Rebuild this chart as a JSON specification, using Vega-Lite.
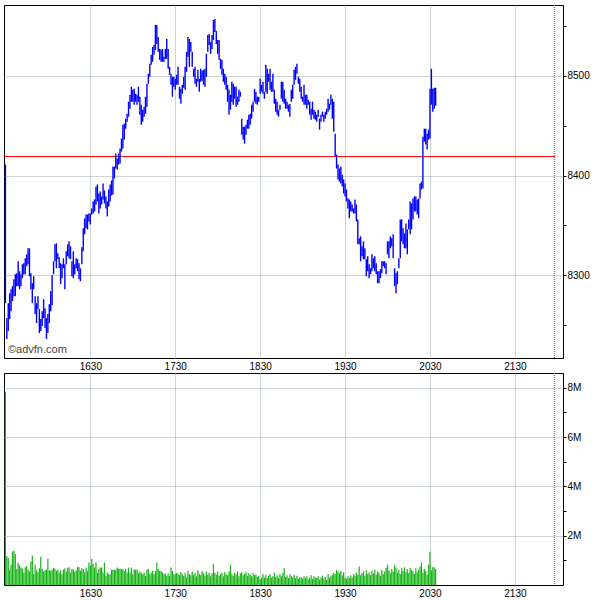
{
"$schema":"https://vega.github.io/schema/vega-lite/v6.json",
"padding":{"left":3,"top":3,"right":0,"bottom":0},
"background":"white",
"spacing":15,
"bounds":"flush",
"config":{"view":{"stroke":"#000","strokeWidth":1},"axis":{"gridColor":"#98a8a8","gridDash":[1,1],"gridWidth":1,"labelFont":"Liberation Sans","labelFontSize":10,"labelColor":"#000","tickColor":"#000","domain":false,"title":null}},
"datasets":{
"ref":[{"prev":8419,"t0":929,"t1":1318.5,"m":1318,"wt":931.8,"wp":8222,"txt":"©advfn.com"}],
"px":[
{"t":930,"h":8411,"l":8272,"v":7.84},{"t":931,"h":8257,"l":8236,"v":1.18},{"t":932,"h":8272,"l":8244,"v":1.10},{"t":933,"h":8282,"l":8256,"v":0.62},{"t":934,"h":8286,"l":8264,"v":0.82},{"t":935,"h":8289,"l":8274,"v":1.36},{"t":936,"h":8296,"l":8279,"v":1.39},{"t":937,"h":8301,"l":8279,"v":1.25},{"t":938,"h":8302,"l":8289,"v":0.65},{"t":939,"h":8314,"l":8289,"v":0.90},
{"t":940,"h":8304,"l":8286,"v":0.80},{"t":941,"h":8301,"l":8289,"v":0.71},{"t":942,"h":8311,"l":8297,"v":0.67},{"t":943,"h":8312,"l":8301,"v":0.50},{"t":944,"h":8317,"l":8301,"v":0.72},{"t":945,"h":8321,"l":8309,"v":0.78},{"t":946,"h":8327,"l":8311,"v":0.62},{"t":947,"h":8327,"l":8299,"v":0.55},{"t":948,"h":8302,"l":8286,"v":0.95},{"t":949,"h":8292,"l":8272,"v":1.20},
{"t":950,"h":8299,"l":8286,"v":0.45},{"t":951,"h":8279,"l":8261,"v":0.82},{"t":952,"h":8272,"l":8252,"v":0.60},{"t":953,"h":8279,"l":8266,"v":0.52},{"t":954,"h":8266,"l":8242,"v":0.68},{"t":955,"h":8256,"l":8244,"v":1.15},{"t":956,"h":8264,"l":8249,"v":0.66},{"t":957,"h":8276,"l":8257,"v":0.55},{"t":958,"h":8267,"l":8247,"v":0.60},{"t":959,"h":8257,"l":8236,"v":0.62},
{"t":960,"h":8261,"l":8242,"v":1.06},{"t":961,"h":8271,"l":8252,"v":0.60},{"t":962,"h":8284,"l":8264,"v":0.58},{"t":963,"h":8300,"l":8270,"v":0.62},{"t":964,"h":8314,"l":8301,"v":0.70},{"t":965,"h":8331,"l":8314,"v":0.66},{"t":966,"h":8332,"l":8307,"v":0.58},{"t":967,"h":8322,"l":8316,"v":0.62},{"t":968,"h":8318,"l":8307,"v":0.50},{"t":969,"h":8312,"l":8291,"v":0.60},
{"t":970,"h":8311,"l":8297,"v":0.44},{"t":971,"h":8317,"l":8307,"v":0.63},{"t":972,"h":8311,"l":8286,"v":0.68},{"t":973,"h":8324,"l":8311,"v":0.55},{"t":974,"h":8331,"l":8319,"v":0.70},{"t":975,"h":8334,"l":8317,"v":0.72},{"t":976,"h":8329,"l":8316,"v":0.50},{"t":977,"h":8314,"l":8299,"v":0.66},{"t":978,"h":8324,"l":8297,"v":0.63},{"t":979,"h":8311,"l":8301,"v":0.54},
{"t":980,"h":8317,"l":8307,"v":0.60},{"t":981,"h":8316,"l":8304,"v":0.74},{"t":982,"h":8312,"l":8296,"v":0.72},{"t":983,"h":8307,"l":8294,"v":0.58},{"t":984,"h":8328,"l":8311,"v":0.68},{"t":985,"h":8347,"l":8324,"v":0.64},{"t":986,"h":8357,"l":8341,"v":0.52},{"t":987,"h":8361,"l":8347,"v":0.71},{"t":988,"h":8361,"l":8346,"v":0.57},{"t":989,"h":8362,"l":8354,"v":0.91},
{"t":990,"h":8362,"l":8351,"v":0.78},{"t":991,"h":8367,"l":8361,"v":1.05},{"t":992,"h":8374,"l":8362,"v":0.85},{"t":993,"h":8376,"l":8364,"v":0.71},{"t":994,"h":8389,"l":8371,"v":0.91},{"t":995,"h":8391,"l":8374,"v":0.50},{"t":996,"h":8382,"l":8362,"v":0.64},{"t":997,"h":8384,"l":8367,"v":0.71},{"t":998,"h":8379,"l":8371,"v":0.71},{"t":999,"h":8392,"l":8376,"v":0.51},
{"t":1000,"h":8385,"l":8372,"v":0.91},{"t":1001,"h":8379,"l":8367,"v":0.37},{"t":1002,"h":8374,"l":8359,"v":0.51},{"t":1003,"h":8386,"l":8369,"v":0.44},{"t":1004,"h":8391,"l":8374,"v":0.44},{"t":1005,"h":8395,"l":8380,"v":0.62},{"t":1006,"h":8409,"l":8381,"v":0.62},{"t":1007,"h":8409,"l":8397,"v":0.62},{"t":1008,"h":8422,"l":8407,"v":0.62},{"t":1009,"h":8417,"l":8406,"v":0.71},
{"t":1010,"h":8422,"l":8411,"v":0.66},{"t":1011,"h":8427,"l":8412,"v":0.66},{"t":1012,"h":8437,"l":8424,"v":0.64},{"t":1013,"h":8451,"l":8427,"v":0.64},{"t":1014,"h":8452,"l":8436,"v":0.57},{"t":1015,"h":8457,"l":8447,"v":0.66},{"t":1016,"h":8462,"l":8454,"v":0.51},{"t":1017,"h":8474,"l":8459,"v":0.71},{"t":1018,"h":8481,"l":8467,"v":0.51},{"t":1019,"h":8489,"l":8474,"v":0.71},
{"t":1020,"h":8486,"l":8474,"v":0.44},{"t":1021,"h":8487,"l":8471,"v":0.64},{"t":1022,"h":8482,"l":8474,"v":0.62},{"t":1023,"h":8481,"l":8471,"v":0.62},{"t":1024,"h":8489,"l":8474,"v":0.49},{"t":1025,"h":8479,"l":8461,"v":0.55},{"t":1026,"h":8471,"l":8451,"v":0.51},{"t":1027,"h":8466,"l":8454,"v":0.44},{"t":1028,"h":8469,"l":8459,"v":0.51},{"t":1029,"h":8479,"l":8462,"v":0.37},
{"t":1030,"h":8492,"l":8469,"v":0.64},{"t":1031,"h":8502,"l":8492,"v":0.64},{"t":1032,"h":8512,"l":8499,"v":0.44},{"t":1033,"h":8521,"l":8511,"v":0.51},{"t":1034,"h":8529,"l":8514,"v":0.57},{"t":1035,"h":8531,"l":8521,"v":0.44},{"t":1036,"h":8551,"l":8526,"v":0.57},{"t":1037,"h":8551,"l":8532,"v":0.91},{"t":1038,"h":8539,"l":8524,"v":0.66},{"t":1039,"h":8527,"l":8516,"v":0.57},
{"t":1040,"h":8526,"l":8514,"v":0.57},{"t":1041,"h":8527,"l":8514,"v":0.51},{"t":1042,"h":8519,"l":8514,"v":0.44},{"t":1043,"h":8527,"l":8517,"v":0.48},{"t":1044,"h":8537,"l":8517,"v":0.37},{"t":1045,"h":8527,"l":8507,"v":0.48},{"t":1046,"h":8509,"l":8501,"v":0.37},{"t":1047,"h":8502,"l":8491,"v":0.71},{"t":1048,"h":8499,"l":8479,"v":0.57},{"t":1049,"h":8499,"l":8489,"v":0.44},
{"t":1050,"h":8497,"l":8486,"v":0.44},{"t":1051,"h":8501,"l":8491,"v":0.50},{"t":1052,"h":8509,"l":8491,"v":0.46},{"t":1053,"h":8489,"l":8477,"v":0.40},{"t":1054,"h":8487,"l":8472,"v":0.52},{"t":1055,"h":8491,"l":8482,"v":0.44},{"t":1056,"h":8499,"l":8488,"v":0.38},{"t":1057,"h":8509,"l":8486,"v":0.50},{"t":1058,"h":8524,"l":8504,"v":0.30},{"t":1059,"h":8539,"l":8519,"v":0.58},
{"t":1060,"h":8537,"l":8509,"v":0.45},{"t":1061,"h":8534,"l":8524,"v":0.40},{"t":1062,"h":8524,"l":8509,"v":0.55},{"t":1063,"h":8507,"l":8499,"v":0.42},{"t":1064,"h":8509,"l":8492,"v":0.50},{"t":1065,"h":8497,"l":8489,"v":0.35},{"t":1066,"h":8506,"l":8494,"v":0.60},{"t":1067,"h":8497,"l":8484,"v":0.45},{"t":1068,"h":8507,"l":8494,"v":0.40},{"t":1069,"h":8505,"l":8495,"v":0.58},
{"t":1070,"h":8506,"l":8491,"v":0.48},{"t":1071,"h":8507,"l":8489,"v":0.38},{"t":1072,"h":8522,"l":8499,"v":0.55},{"t":1073,"h":8541,"l":8524,"v":0.42},{"t":1074,"h":8542,"l":8531,"v":0.50},{"t":1075,"h":8534,"l":8522,"v":0.36},{"t":1076,"h":8541,"l":8527,"v":0.48},{"t":1077,"h":8556,"l":8536,"v":0.85},{"t":1078,"h":8557,"l":8544,"v":0.50},{"t":1079,"h":8545,"l":8532,"v":0.42},
{"t":1080,"h":8536,"l":8522,"v":0.55},{"t":1081,"h":8536,"l":8516,"v":0.38},{"t":1082,"h":8517,"l":8507,"v":0.45},{"t":1083,"h":8516,"l":8501,"v":0.50},{"t":1084,"h":8507,"l":8494,"v":0.35},{"t":1085,"h":8502,"l":8491,"v":0.52},{"t":1086,"h":8499,"l":8486,"v":0.44},{"t":1087,"h":8491,"l":8474,"v":0.40},{"t":1088,"h":8486,"l":8461,"v":0.55},{"t":1089,"h":8481,"l":8466,"v":0.82},
{"t":1090,"h":8494,"l":8474,"v":0.45},{"t":1091,"h":8492,"l":8471,"v":0.38},{"t":1092,"h":8489,"l":8477,"v":0.50},{"t":1093,"h":8489,"l":8469,"v":0.42},{"t":1094,"h":8479,"l":8471,"v":0.55},{"t":1095,"h":8486,"l":8474,"v":0.36},{"t":1096,"h":8484,"l":8479,"v":0.48},{"t":1097,"h":8457,"l":8441,"v":0.52},{"t":1098,"h":8449,"l":8436,"v":0.40},{"t":1099,"h":8449,"l":8432,"v":0.45},
{"t":1100,"h":8451,"l":8441,"v":0.55},{"t":1101,"h":8456,"l":8447,"v":0.38},{"t":1102,"h":8461,"l":8447,"v":0.48},{"t":1103,"h":8462,"l":8451,"v":0.42},{"t":1104,"h":8471,"l":8457,"v":0.35},{"t":1105,"h":8474,"l":8464,"v":0.50},{"t":1106,"h":8487,"l":8474,"v":0.40},{"t":1107,"h":8484,"l":8472,"v":0.44},{"t":1108,"h":8479,"l":8471,"v":0.32},{"t":1109,"h":8479,"l":8474,"v":0.38},
{"t":1110,"h":8497,"l":8482,"v":0.22},{"t":1111,"h":8491,"l":8484,"v":0.30},{"t":1112,"h":8494,"l":8482,"v":0.45},{"t":1113,"h":8484,"l":8477,"v":0.30},{"t":1114,"h":8511,"l":8484,"v":0.42},{"t":1115,"h":8507,"l":8482,"v":0.28},{"t":1116,"h":8502,"l":8494,"v":0.38},{"t":1117,"h":8507,"l":8486,"v":0.45},{"t":1118,"h":8494,"l":8484,"v":0.30},{"t":1119,"h":8502,"l":8484,"v":0.35},
{"t":1120,"h":8486,"l":8472,"v":0.50},{"t":1121,"h":8477,"l":8464,"v":0.32},{"t":1122,"h":8474,"l":8461,"v":0.40},{"t":1123,"h":8466,"l":8459,"v":0.28},{"t":1124,"h":8471,"l":8466,"v":0.45},{"t":1125,"h":8494,"l":8477,"v":0.35},{"t":1126,"h":8494,"l":8474,"v":0.50},{"t":1127,"h":8486,"l":8472,"v":0.68},{"t":1128,"h":8477,"l":8467,"v":0.32},{"t":1129,"h":8474,"l":8467,"v":0.40},
{"t":1130,"h":8471,"l":8464,"v":0.28},{"t":1131,"h":8472,"l":8459,"v":0.45},{"t":1132,"h":8486,"l":8474,"v":0.36},{"t":1133,"h":8491,"l":8477,"v":0.30},{"t":1134,"h":8506,"l":8491,"v":0.42},{"t":1135,"h":8509,"l":8496,"v":0.28},{"t":1136,"h":8512,"l":8502,"v":0.38},{"t":1137,"h":8499,"l":8492,"v":0.25},{"t":1138,"h":8497,"l":8484,"v":0.30},{"t":1139,"h":8489,"l":8477,"v":0.32},
{"t":1140,"h":8479,"l":8474,"v":0.25},{"t":1141,"h":8491,"l":8471,"v":0.35},{"t":1142,"h":8481,"l":8471,"v":0.28},{"t":1143,"h":8481,"l":8467,"v":0.36},{"t":1144,"h":8476,"l":8471,"v":0.22},{"t":1145,"h":8474,"l":8461,"v":0.30},{"t":1146,"h":8467,"l":8456,"v":0.40},{"t":1147,"h":8474,"l":8461,"v":0.25},{"t":1148,"h":8466,"l":8457,"v":0.35},{"t":1149,"h":8464,"l":8456,"v":0.30},
{"t":1150,"h":8461,"l":8454,"v":0.28},{"t":1151,"h":8466,"l":8459,"v":0.35},{"t":1152,"h":8457,"l":8446,"v":0.22},{"t":1153,"h":8461,"l":8454,"v":0.30},{"t":1154,"h":8464,"l":8459,"v":0.38},{"t":1155,"h":8461,"l":8454,"v":0.25},{"t":1156,"h":8464,"l":8457,"v":0.32},{"t":1157,"h":8467,"l":8461,"v":0.20},{"t":1158,"h":8477,"l":8464,"v":0.45},{"t":1159,"h":8472,"l":8466,"v":0.30},
{"t":1160,"h":8481,"l":8471,"v":0.35},{"t":1161,"h":8477,"l":8457,"v":0.42},{"t":1162,"h":8474,"l":8444,"v":0.50},{"t":1163,"h":8442,"l":8419,"v":0.45},{"t":1164,"h":8421,"l":8407,"v":0.60},{"t":1165,"h":8411,"l":8396,"v":0.55},{"t":1166,"h":8407,"l":8394,"v":0.48},{"t":1167,"h":8409,"l":8392,"v":0.58},{"t":1168,"h":8401,"l":8389,"v":0.40},{"t":1169,"h":8396,"l":8382,"v":0.52},
{"t":1170,"h":8392,"l":8379,"v":0.30},{"t":1171,"h":8386,"l":8374,"v":0.25},{"t":1172,"h":8377,"l":8367,"v":0.35},{"t":1173,"h":8376,"l":8357,"v":0.28},{"t":1174,"h":8374,"l":8364,"v":0.40},{"t":1175,"h":8371,"l":8364,"v":0.30},{"t":1176,"h":8367,"l":8362,"v":0.45},{"t":1177,"h":8376,"l":8362,"v":0.38},{"t":1178,"h":8371,"l":8354,"v":0.50},{"t":1179,"h":8356,"l":8331,"v":0.42},
{"t":1180,"h":8337,"l":8331,"v":0.75},{"t":1181,"h":8339,"l":8314,"v":0.40},{"t":1182,"h":8329,"l":8319,"v":0.48},{"t":1183,"h":8334,"l":8316,"v":0.55},{"t":1184,"h":8327,"l":8316,"v":0.38},{"t":1185,"h":8316,"l":8299,"v":0.60},{"t":1186,"h":8319,"l":8304,"v":0.45},{"t":1187,"h":8311,"l":8297,"v":0.52},{"t":1188,"h":8307,"l":8301,"v":0.40},{"t":1189,"h":8321,"l":8304,"v":0.58},
{"t":1190,"h":8317,"l":8307,"v":0.48},{"t":1191,"h":8319,"l":8304,"v":0.62},{"t":1192,"h":8312,"l":8301,"v":0.42},{"t":1193,"h":8304,"l":8292,"v":0.55},{"t":1194,"h":8304,"l":8292,"v":0.50},{"t":1195,"h":8306,"l":8297,"v":0.38},{"t":1196,"h":8314,"l":8302,"v":0.62},{"t":1197,"h":8314,"l":8309,"v":0.45},{"t":1198,"h":8314,"l":8307,"v":0.55},{"t":1199,"h":8312,"l":8301,"v":0.70},
{"t":1200,"h":8334,"l":8321,"v":0.82},{"t":1201,"h":8334,"l":8317,"v":0.60},{"t":1202,"h":8339,"l":8327,"v":0.48},{"t":1203,"h":8337,"l":8329,"v":0.65},{"t":1204,"h":8341,"l":8317,"v":0.55},{"t":1205,"h":8307,"l":8289,"v":0.80},{"t":1206,"h":8302,"l":8282,"v":0.70},{"t":1207,"h":8304,"l":8291,"v":0.50},{"t":1208,"h":8317,"l":8307,"v":0.62},{"t":1209,"h":8356,"l":8317,"v":0.45},
{"t":1210,"h":8356,"l":8334,"v":0.68},{"t":1211,"h":8347,"l":8331,"v":0.58},{"t":1212,"h":8342,"l":8327,"v":0.72},{"t":1213,"h":8352,"l":8327,"v":0.52},{"t":1214,"h":8346,"l":8321,"v":0.65},{"t":1215,"h":8356,"l":8346,"v":0.48},{"t":1216,"h":8374,"l":8341,"v":0.70},{"t":1217,"h":8372,"l":8346,"v":0.60},{"t":1218,"h":8377,"l":8356,"v":0.55},{"t":1219,"h":8379,"l":8364,"v":0.45},
{"t":1220,"h":8379,"l":8364,"v":0.68},{"t":1221,"h":8376,"l":8361,"v":0.52},{"t":1222,"h":8377,"l":8357,"v":0.62},{"t":1223,"h":8392,"l":8377,"v":0.75},{"t":1224,"h":8394,"l":8386,"v":0.92},{"t":1225,"h":8439,"l":8387,"v":0.50},{"t":1226,"h":8447,"l":8434,"v":0.65},{"t":1227,"h":8447,"l":8431,"v":0.58},{"t":1228,"h":8442,"l":8426,"v":0.42},{"t":1229,"h":8446,"l":8436,"v":0.82},
{"t":1230,"h":8487,"l":8437,"v":1.35},{"t":1231,"h":8507,"l":8471,"v":0.60},{"t":1232,"h":8487,"l":8464,"v":0.72},{"t":1233,"h":8488,"l":8467,"v":0.72},{"t":1234,"h":8488,"l":8470,"v":0.65}
]},
"vconcat":[
{"width":559,"height":353,
 "layer":[
  {"data":{"name":"ref"},"mark":{"type":"rule","color":"#ff0000","strokeWidth":1},
   "encoding":{"x":{"field":"t0","type":"quantitative","scale":{"domain":[929,1324],"nice":false,"zero":false},"axis":{"values":[990,1050,1110,1170,1230,1290],"ticks":false,"labelPadding":3,"labelFlush":false,"labelExpr":"'' + (floor(datum.value/60)*100 + datum.value%60)","title":null}},
     "x2":{"field":"t1"},
     "y":{"field":"prev","type":"quantitative","scale":{"domain":[8217,8571],"nice":false,"zero":false},"axis":{"orient":"right","values":[8250,8300,8350,8400,8450,8500,8550],"labelExpr":"datum.value % 100 == 0 ? '' + datum.value : ''","gridOpacity":{"condition":{"test":"datum.value % 100 == 0","value":1},"value":0},"tickSize":3,"labelPadding":1,"labelFlush":false,"title":null}}}},
  {"data":{"name":"ref"},"mark":{"type":"rule","color":"#7f8f8f","strokeDash":[1,1],"strokeWidth":1.5},
   "encoding":{"x":{"field":"m","type":"quantitative","axis":{"title":null}}}},
  {"data":{"name":"px"},"mark":{"type":"rule","color":"#0000ff","strokeWidth":1.4},
   "encoding":{"x":{"field":"t","type":"quantitative","axis":{"title":null}},
     "y":{"field":"h","type":"quantitative","axis":{"title":null}},
     "y2":{"field":"l"}}},
  {"data":{"name":"ref"},"mark":{"type":"text","align":"left","baseline":"alphabetic","font":"Liberation Sans","fontSize":11,"color":"#444444"},
   "encoding":{"x":{"field":"wt","type":"quantitative","axis":{"title":null}},"y":{"field":"wp","type":"quantitative","axis":{"title":null}},"text":{"field":"txt"}}}
 ]},
{"width":559,"height":212,
 "layer":[
  {"data":{"name":"ref"},"mark":{"type":"rule","color":"#7f8f8f","strokeDash":[1,1],"strokeWidth":1.5},
   "encoding":{"x":{"field":"m","type":"quantitative","scale":{"domain":[929,1324],"nice":false,"zero":false},"axis":{"values":[990,1050,1110,1170,1230,1290],"ticks":false,"labelPadding":3,"labelFlush":false,"labelExpr":"'' + (floor(datum.value/60)*100 + datum.value%60)","title":null}}}},
  {"data":{"name":"px"},"mark":{"type":"rule","color":"#16b416","strokeWidth":1.2},
   "encoding":{"x":{"field":"t","type":"quantitative","axis":{"title":null}},
     "y":{"field":"v","type":"quantitative","scale":{"domain":[0,8.6],"nice":false,"zero":false},"axis":{"orient":"right","values":[1,2,3,4,5,6,7,8],"labelExpr":"datum.value % 2 == 0 ? datum.value + 'M' : ''","gridOpacity":{"condition":{"test":"datum.value % 2 == 0","value":1},"value":0},"tickSize":3,"labelPadding":1,"labelFlush":false,"title":null}},
     "y2":{"datum":0}}}
 ]}
]
}
